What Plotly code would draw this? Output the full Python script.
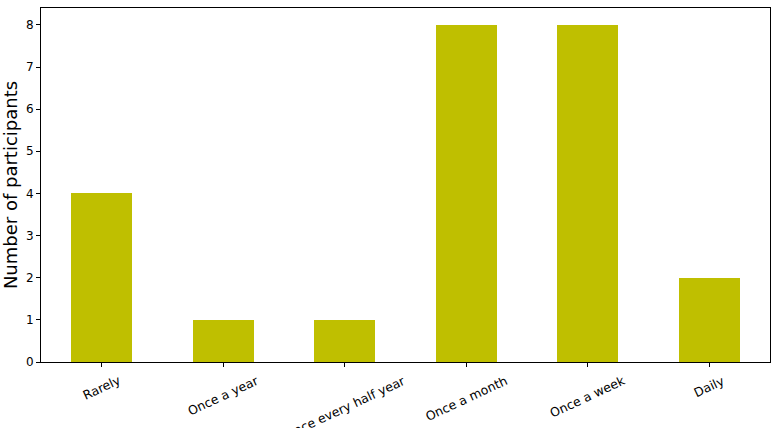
import plotly.graph_objects as go

categories = ["Rarely", "Once a year", "Once every half year", "Once a month", "Once a week", "Daily"]
values = [4, 1, 1, 8, 8, 2]
y_ticks = [0, 1, 2, 3, 4, 5, 6, 7, 8]

x_idx = list(range(len(categories)))

fig = go.Figure(go.Bar(x=x_idx, y=values, width=0.5, marker=dict(color="#bfbf00", line=dict(width=0))))

annotations = []
for i, c in enumerate(categories):
    annotations.append(dict(x=i, xref="x", y=0, yref="paper", yanchor="top", xanchor="center",
                            yshift=-8, text=c, textangle=-25, showarrow=False,
                            font=dict(family="DejaVu Sans", size=12.5, color="black")))

fig.update_layout(
    width=774, height=428,
    margin=dict(l=41, r=4, t=8, b=66),
    plot_bgcolor="white", paper_bgcolor="white",
    showlegend=False,
    font=dict(family="DejaVu Sans", size=12, color="black"),
    annotations=annotations,
    bargap=0,
)
fig.update_xaxes(range=[-0.5, 5.5], tickvals=x_idx, showticklabels=False, ticks="outside", ticklen=4,
                 tickcolor="black", showline=True, linecolor="black", linewidth=1, mirror=True,
                 showgrid=False, zeroline=False)
fig.update_yaxes(range=[0, 8.4], tickvals=y_ticks, ticks="outside", ticklen=4, tickcolor="black",
                 showline=True, linecolor="black", linewidth=1, mirror=True, showgrid=False, zeroline=False,
                 tickfont=dict(size=12),
                 title=dict(text="Number of participants", font=dict(size=18), standoff=8))

fig.write_html("out.html")
